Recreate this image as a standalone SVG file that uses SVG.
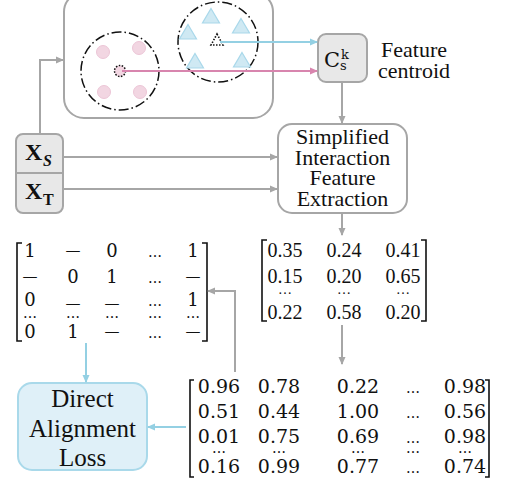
<svg xmlns="http://www.w3.org/2000/svg" width="505" height="486" viewBox="0 0 505 486">
  <style>
    text { font-family: "Liberation Serif", "Times New Roman", serif; fill: #111; }
    .mono text, text.mono { font-family: "DejaVu Serif", "Liberation Serif", serif; }
    .lbl { font-size: 22px; text-anchor: middle; }
    .big { font-size: 25px; text-anchor: middle; }
    .cell { font-size: 18px; text-anchor: middle; }
    .dash { font-size: 15px; text-anchor: middle; }
    .ell { font-size: 14px; }
    .mcell { font-size: 20px; text-anchor: middle; }
    .bcell { font-size: 19px; text-anchor: middle; }
    .gray { stroke: #a6a6a6; stroke-width: 2; fill: none; }
    .blue { stroke: #94d0e3; stroke-width: 2; fill: none; }
    .pink { stroke: #d885ae; stroke-width: 2; fill: none; }
    .bracket { stroke: #111; stroke-width: 1.6; fill: none; }
    .cluster { stroke: #111; stroke-width: 1.5; fill: none; stroke-dasharray: 10 3 1.5 3; }
    .dot { fill: #f2d6e2; stroke: #ecc6d7; stroke-width: 1; }
    .tri { fill: #cfe9f3; stroke: #a9d8ea; stroke-width: 1.2; }
  </style>
  <defs>
    <marker id="ahGray" markerWidth="8" markerHeight="8" refX="7" refY="4" orient="auto" markerUnits="userSpaceOnUse">
      <path d="M0,0.5 L8,4 L0,7.5 Z" fill="#a6a6a6"/>
    </marker>
    <marker id="ahBlue" markerWidth="8" markerHeight="8" refX="7" refY="4" orient="auto" markerUnits="userSpaceOnUse">
      <path d="M0,0.5 L8,4 L0,7.5 Z" fill="#94d0e3"/>
    </marker>
    <marker id="ahPink" markerWidth="8" markerHeight="8" refX="7" refY="4" orient="auto" markerUnits="userSpaceOnUse">
      <path d="M0,0.5 L8,4 L0,7.5 Z" fill="#d885ae"/>
    </marker>
    <polygon id="triShape" points="0,-8.5 8.5,6 -8.5,6"/>
  </defs>

  <!-- feature space panel with two clusters -->
  <g id="feature-space">
    <rect x="64" y="-8" width="209" height="126" rx="20" fill="#fff" stroke="#a6a6a6" stroke-width="2"/>
    <circle class="cluster" cx="120" cy="71" r="39"/>
    <circle class="dot" cx="103" cy="52" r="6.5"/>
    <circle class="dot" cx="139" cy="48" r="6.5"/>
    <circle class="dot" cx="104" cy="92" r="6.5"/>
    <circle class="dot" cx="140" cy="92" r="6.5"/>
    <circle cx="120" cy="71" r="5.5" fill="#f2d6e2" stroke="#111" stroke-width="1.5" stroke-dasharray="1.5 1.5"/>
    <circle class="cluster" cx="218" cy="42" r="40"/>
    <use href="#triShape" class="tri" x="211" y="17"/>
    <use href="#triShape" class="tri" x="188" y="33"/>
    <use href="#triShape" class="tri" x="241" y="27"/>
    <use href="#triShape" class="tri" x="195" y="62"/>
    <use href="#triShape" class="tri" x="242" y="61"/>
    <polygon points="217,34 223,45 211,45" fill="none" stroke="#111" stroke-width="1.6" stroke-dasharray="1.5 1.5"/>
  </g>

  <!-- centroid node -->
  <g id="centroid">
    <rect x="318" y="34" width="49" height="48" rx="8" fill="#e8e8e8" stroke="#a6a6a6" stroke-width="2"/>
    <text class="mono" x="324" y="67" font-size="21">C</text>
    <text class="mono" x="341" y="59" font-size="13">k</text>
    <text class="mono" x="340" y="70" font-size="13">s</text>
    <text class="lbl" x="414" y="57">Feature</text>
    <text class="lbl" x="414" y="78">centroid</text>
  </g>

  <!-- source / target inputs -->
  <g id="inputs">
    <rect x="16" y="134" width="47" height="79" rx="7" fill="#e8e8e8" stroke="#a6a6a6" stroke-width="2"/>
    <line x1="16" y1="173" x2="63" y2="173" stroke="#a6a6a6" stroke-width="2"/>
    <text x="25" y="160" font-size="24" font-weight="bold">X</text>
    <text x="43" y="166" font-size="16" font-weight="bold" font-style="italic">S</text>
    <text x="25" y="199" font-size="24" font-weight="bold">X</text>
    <text x="43" y="205" font-size="16" font-weight="bold">T</text>
  </g>

  <!-- interaction feature extraction -->
  <g id="extraction">
    <rect x="278" y="124" width="129" height="89" rx="14" fill="#fff" stroke="#a6a6a6" stroke-width="2"/>
    <text class="lbl" x="342.5" y="144">Simplified</text>
    <text class="lbl" x="342.5" y="165">Interaction</text>
    <text class="lbl" x="342.5" y="185">Feature</text>
    <text class="lbl" x="342.5" y="206">Extraction</text>
  </g>

  <!-- interaction feature matrix -->
  <g id="feature-matrix">
    <path class="bracket" stroke-width="2" d="M267,240 H262 V321 H267 M421,240 H426 V321 H421"/>
    <g class="mcell">
      <text x="285" y="257">0.35</text><text x="344" y="257">0.24</text><text x="403" y="257">0.41</text>
      <text x="285" y="283">0.15</text><text x="344" y="283">0.20</text><text x="403" y="283">0.65</text>
      <text class="ell" x="285" y="294">…</text><text class="ell" x="344" y="294">…</text><text class="ell" x="403" y="294">…</text>
      <text x="285" y="319">0.22</text><text x="344" y="319">0.58</text><text x="403" y="319">0.20</text>
    </g>
  </g>

  <!-- binarised alignment matrix -->
  <g id="label-matrix">
    <path class="bracket" d="M22,243 H17 V341 H22 M202,243 H207 V341 H202"/>
    <g class="mono cell">
      <text x="30" y="257">1</text><text class="dash" x="73" y="255">—</text><text x="112" y="257">0</text><text class="ell" x="155" y="257">…</text><text x="193" y="257">1</text>
      <text class="dash" x="30" y="281">—</text><text x="73" y="283">0</text><text x="112" y="283">1</text><text class="ell" x="155" y="283">…</text><text class="dash" x="193" y="281">—</text>
      <text x="30" y="306">0</text><text class="dash" x="73" y="308">—</text><text class="dash" x="112" y="308">—</text><text class="ell" x="155" y="306">…</text><text x="193" y="306">1</text>
      <text class="ell" x="30" y="318">…</text><text class="ell" x="73" y="318">…</text><text class="ell" x="112" y="318">…</text><text class="ell" x="155" y="318">…</text><text class="ell" x="193" y="318">…</text>
      <text x="30" y="338">0</text><text x="73" y="338">1</text><text class="dash" x="112" y="336">—</text><text class="ell" x="155" y="338">…</text><text class="dash" x="193" y="336">—</text>
    </g>
  </g>

  <!-- similarity matrix -->
  <g id="similarity-matrix">
    <path class="bracket" stroke-width="1.4" d="M194,380 H190 V477 H194 M485,380 H489 V477 H485"/>
    <g class="mono bcell">
      <text x="219" y="393">0.96</text><text x="279" y="393">0.78</text><text x="358" y="393">0.22</text><text class="ell" x="413" y="393">…</text><text x="465" y="393">0.98</text>
      <text x="219" y="418">0.51</text><text x="279" y="418">0.44</text><text x="358" y="418">1.00</text><text class="ell" x="413" y="418">…</text><text x="465" y="418">0.56</text>
      <text x="219" y="443">0.01</text><text x="279" y="443">0.75</text><text x="358" y="443">0.69</text><text class="ell" x="413" y="443">…</text><text x="465" y="443">0.98</text>
      <text class="ell" x="219" y="453">…</text><text class="ell" x="279" y="453">…</text><text class="ell" x="358" y="453">…</text><text class="ell" x="413" y="453">…</text><text class="ell" x="465" y="453">…</text>
      <text x="219" y="473">0.16</text><text x="279" y="473">0.99</text><text x="358" y="473">0.77</text><text class="ell" x="413" y="473">…</text><text x="465" y="473">0.74</text>
    </g>
  </g>

  <!-- loss node -->
  <g id="loss">
    <rect x="18" y="383" width="129" height="87" rx="14" fill="#dff0f8" stroke="#a9d9ea" stroke-width="2"/>
    <text class="big" x="82.5" y="407">Direct</text>
    <text class="big" x="82.5" y="437">Alignment</text>
    <text class="big" x="82.5" y="466">Loss</text>
  </g>

  <!-- connectors -->
  <g id="connectors">
    <polyline class="gray" points="40,134 40,60 63,60" marker-end="url(#ahGray)"/>
    <line class="blue" x1="220" y1="42" x2="317" y2="42" marker-end="url(#ahBlue)"/>
    <line class="pink" x1="122" y1="71" x2="317" y2="71" marker-end="url(#ahPink)"/>
    <line class="gray" x1="342" y1="82" x2="342" y2="123" marker-end="url(#ahGray)"/>
    <line class="gray" x1="63" y1="157" x2="277" y2="157" marker-end="url(#ahGray)"/>
    <line class="gray" x1="63" y1="189" x2="277" y2="189" marker-end="url(#ahGray)"/>
    <line class="gray" x1="342" y1="213" x2="342" y2="235" marker-end="url(#ahGray)"/>
    <line class="gray" x1="342" y1="325" x2="342" y2="364" marker-end="url(#ahGray)"/>
    <polyline class="gray" points="235,372 235,291 208,291" marker-end="url(#ahGray)"/>
    <line class="blue" x1="86" y1="343" x2="86" y2="382" marker-end="url(#ahBlue)"/>
    <line class="blue" x1="186" y1="427" x2="148" y2="427" marker-end="url(#ahBlue)"/>
  </g>
</svg>
